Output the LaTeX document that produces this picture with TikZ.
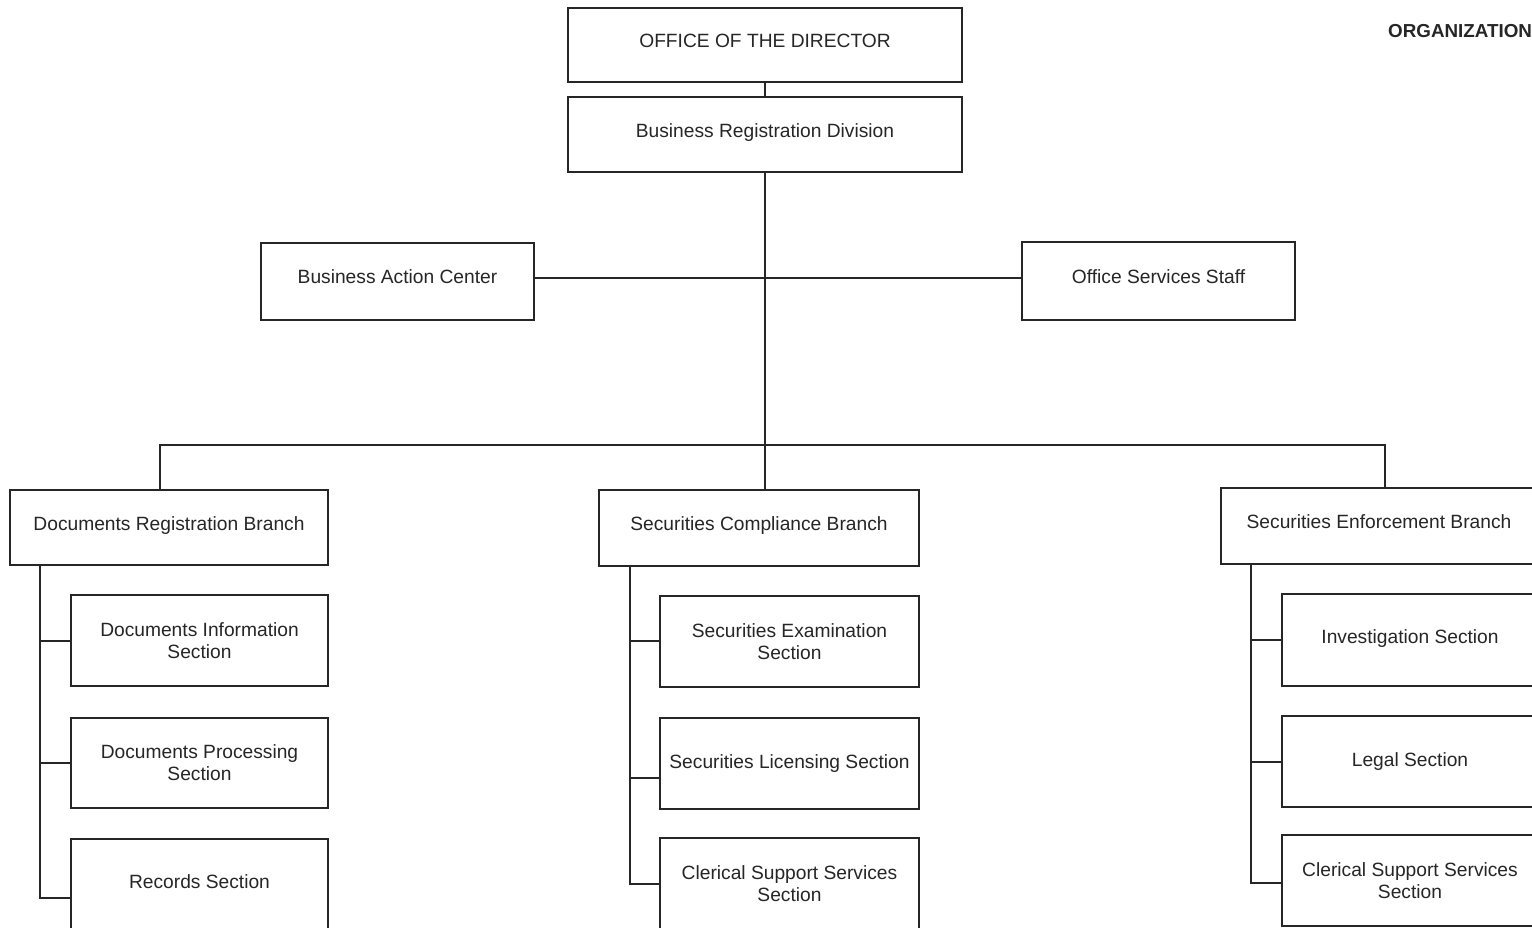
\documentclass[tikz,border=0pt]{standalone}
\usepackage{fontspec}
\setmainfont{Liberation Sans}
\usetikzlibrary{calc}
% raise a single line of text a little inside its box
\newcommand\lift[2][4.5pt]{\raisebox{#1}[\height][\depth]{#2}}
\begin{document}
\begin{tikzpicture}[x=1pt,y=-1pt,
  box/.style={draw=black!85, line width=1.8pt, fill=white, align=center,
    text=black!85, font=\fontsize{19.2}{22}\selectfont, inner sep=0pt},
  link/.style={draw=black!85, line width=1.8pt}]
\useasboundingbox (0,0) rectangle (1532,927);
\clip (0,0) rectangle (1532,927);

% top of the hierarchy
\node[box, minimum width=394, minimum height=74] (dir) at (765,45) {\lift{OFFICE OF THE DIRECTOR}};
\node[box, minimum width=394, minimum height=75] (brd) at (765,134.5) {\lift[1.5pt]{Business Registration Division}};
\node[box, minimum width=273, minimum height=77] (bac) at (397.5,281.5) {\lift{Business Action Center}};
\node[box, minimum width=273, minimum height=78] (oss) at (1158.5,281) {\lift{Office Services Staff}};

% branches
\node[box, minimum width=318, minimum height=75] (drb) at (169,527.5) {\lift[1.5pt]{Documents Registration Branch}};
\node[box, minimum width=320, minimum height=76] (scb) at (759,528) {\lift[2.5pt]{Securities Compliance Branch}};
\node[box, minimum width=316, minimum height=76] (seb) at (1379,526) {\lift{Securities Enforcement Branch}};

% sections of the documents registration branch
\node[box, minimum width=257, minimum height=91] (dis) at (199.5,640.5) {Documents Information\\Section};
\node[box, minimum width=257, minimum height=90] (dps) at (199.5,763) {Documents Processing\\Section};
\node[box, minimum width=257, minimum height=91] (rs) at (199.5,884.5) {\lift[2.5pt]{Records Section}};

% sections of the securities compliance branch
\node[box, minimum width=259, minimum height=91] (ses) at (789.5,641.5) {Securities Examination\\Section};
\node[box, minimum width=259, minimum height=91] (sls) at (789.5,763.5) {Securities Licensing Section};
\node[box, minimum width=259, minimum height=91] (css1) at (789.5,883.5) {Clerical Support Services\\Section};

% sections of the securities enforcement branch
\node[box, minimum width=256, minimum height=92] (is) at (1410,640) {\lift[1.5pt]{Investigation Section}};
\node[box, minimum width=256, minimum height=91] (ls) at (1410,761.5) {Legal Section};
\node[box, minimum width=256, minimum height=91] (css2) at (1410,880.5) {Clerical Support Services\\Section};

\node[anchor=west, font=\bfseries\fontsize{18.8}{22}\selectfont, text=black!85, inner sep=0pt] (org) at (1388,31) {ORGANIZATION};

% main trunk
\coordinate (hub) at (765,278);
\coordinate (bus) at (765,445);
\draw[link] (dir.south) -- (brd.north);
\draw[link] (brd.south) -- (brd.south |- scb.north);
\draw[link] (bac.east |- hub) -- (oss.west |- hub);
\draw[link] ($(drb.north west)+(151,0)$) |- (bus) -| ($(seb.north west)+(165,0)$);

% section spines
\draw[link] ($(drb.south west)+(31,0)$) |- ($(rs.west)+(0,13.5)$);
\draw[link] ($(drb.south west)+(31,0)$) |- ($(dis.west)+(0,0.5)$);
\draw[link] ($(drb.south west)+(31,0)$) |- (dps.west);

\draw[link] ($(scb.south west)+(32,0)$) |- ($(css1.west)+(0,0.5)$);
\draw[link] ($(scb.south west)+(32,0)$) |- ($(ses.west)+(0,-0.5)$);
\draw[link] ($(scb.south west)+(32,0)$) |- ($(sls.west)+(0,14.5)$);

\draw[link] ($(seb.south west)+(31,0)$) |- ($(css2.west)+(0,2.5)$);
\draw[link] ($(seb.south west)+(31,0)$) |- (is.west);
\draw[link] ($(seb.south west)+(31,0)$) |- ($(ls.west)+(0,0.5)$);
\end{tikzpicture}
\end{document}
